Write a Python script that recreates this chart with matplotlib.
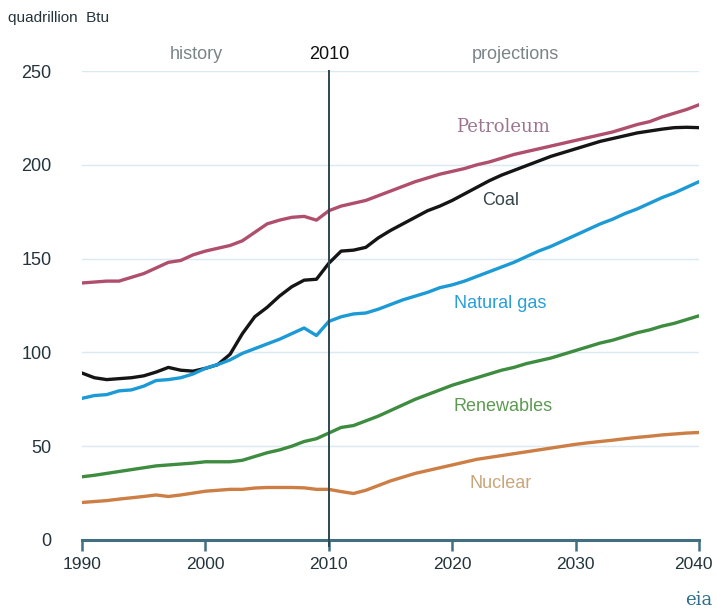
import matplotlib
matplotlib.use("Agg")
import matplotlib.pyplot as plt
import matplotlib.transforms as mtransforms
import numpy as np

plt.rcParams["font.family"] = ["Liberation Sans", "DejaVu Sans"]

years = list(range(1990, 2041))

petroleum = [137, 137.5, 138, 138, 140, 142, 145, 148, 149, 152,
             154, 155.5, 157, 159.5, 164, 168.5, 170.5, 172, 172.5, 170.5,
             175.5, 178, 179.5, 181, 183.5, 186, 188.5, 191, 193, 195,
             196.5, 198, 200, 201.5, 203.5, 205.5, 207, 208.5, 210, 211.5,
             213, 214.5, 216, 217.5, 219.5, 221.5, 223, 225.5, 227.5, 229.5, 232]

coal = [89, 86.5, 85.5, 86, 86.5, 87.5, 89.5, 92, 90.5, 90,
        91.5, 93.5, 99, 110, 119, 124, 130, 135, 138.5, 139,
        147.5, 154, 154.5, 156, 161, 165, 168.5, 172, 175.5, 178,
        181, 184.5, 188, 191.5, 194.5, 197, 199.5, 202, 204.5, 206.5,
        208.5, 210.5, 212.5, 214, 215.5, 217, 218, 219, 219.8, 220, 219.8]

natural_gas = [75.5, 77, 77.5, 79.5, 80, 82, 85, 85.5, 86.5, 88.5,
               91.5, 93.5, 96, 99.5, 102, 104.5, 107, 110, 113, 109,
               116.5, 119, 120.5, 121, 123, 125.5, 128, 130, 132, 134.5,
               136, 138, 140.5, 143, 145.5, 148, 151, 154, 156.5, 159.5,
               162.5, 165.5, 168.5, 171, 174, 176.5, 179.5, 182.5, 185, 188, 191]

renewables = [33.7, 34.5, 35.5, 36.5, 37.5, 38.5, 39.5, 40, 40.5, 41,
              41.7, 41.7, 41.7, 42.5, 44.5, 46.5, 48, 50, 52.5, 54,
              57, 60, 61, 63.5, 66, 69, 72, 75, 77.5, 80,
              82.5, 84.5, 86.5, 88.5, 90.5, 92, 94, 95.5, 97, 99,
              101, 103, 105, 106.5, 108.5, 110.5, 112, 114, 115.5, 117.5, 119.5]

nuclear = [20, 20.5, 21, 21.8, 22.5, 23.2, 24, 23.2, 24, 25,
           26, 26.5, 27, 27, 27.7, 28, 28, 28, 27.8, 27,
           27, 25.8, 24.8, 26.5, 29, 31.5, 33.5, 35.5, 37, 38.5,
           40, 41.5, 43, 44, 45, 46, 47, 48, 49, 50,
           51, 51.8, 52.5, 53.2, 54, 54.7, 55.3, 56, 56.5, 57, 57.3]

series_names = ["Petroleum", "Coal", "Natural gas", "Renewables", "Nuclear"]
x_ticks = [1990, 2000, 2010, 2020, 2030, 2040]
y_ticks = [0, 50, 100, 150, 200, 250]

line_colors = ["#b04f6c", "#151515", "#1c9ad6", "#3d8c3f", "#cc7e45"]
label_colors = ["#9c7590", "#36464c", "#2a9fd8", "#5c9a52", "#c9a67a"]
label_pos = [(2024.1, 220), (2023.9, 181), (2023.9, 126), (2024.1, 71), (2023.9, 30)]

fig = plt.figure(figsize=(7.17, 6.12), dpi=100)
ax = fig.add_axes([82/717, 72/612, 617/717, 469/612])

data = [petroleum, coal, natural_gas, renewables, nuclear]
for vals, c in zip(data, line_colors):
    ax.plot(years, vals, color=c, lw=2.4, solid_capstyle="round", zorder=3)

ax.set_xlim(1990, 2040)
ax.set_ylim(0, 250)
ax.set_xticks(x_ticks)
ax.set_yticks(y_ticks)
for y in y_ticks[1:]:
    ax.axhline(y, color="#dbe9f1", lw=1.0, zorder=1)

for s in ["top", "right", "left"]:
    ax.spines[s].set_visible(False)
ax.spines["bottom"].set_color("#3f6f80")
ax.spines["bottom"].set_linewidth(2.2)
ax.spines["bottom"].set_zorder(4)
ax.tick_params(axis="x", direction="out", length=8, width=1.8, color="#3f6f80",
               labelsize=12.5, labelcolor="#24343c", pad=4)
ax.tick_params(axis="y", length=0, labelsize=13, labelcolor="#24343c", pad=22)

# nudge the last x tick label so it stays inside the figure
fig.canvas.draw()
last = ax.get_xticklabels()[-1]
last.set_transform(last.get_transform() +
                   mtransforms.ScaledTranslation(-6/100, 0, fig.dpi_scale_trans))

ax.plot([2010, 2010], [-3, 250], color="#2e4650", lw=1.4, zorder=5, clip_on=False)

for name, (px, py), c in zip(series_names, label_pos, label_colors):
    fam = "DejaVu Serif" if name == "Petroleum" else "Liberation Sans"
    ax.text(px, py, name, color=c, fontsize=13, ha="center", va="center", family=fam)

fig.text(8/717, 1 - 18/612, "quadrillion  Btu", fontsize=11, color="#24343c",
         ha="left", va="center")
ax.text(1999.3, 259, "history", fontsize=13, color="#7a8488", ha="center", va="center")
ax.text(2010, 259, "2010", fontsize=13, color="#111111", ha="center", va="center")
ax.text(2025.1, 259, "projections", fontsize=13, color="#7a8488", ha="center", va="center")
fig.text(699/717, 1 - 600/612, "eia", fontsize=13, color="#2f6f8a", ha="center",
         va="center", family="DejaVu Serif")

fig.savefig("out.png", dpi=100)
